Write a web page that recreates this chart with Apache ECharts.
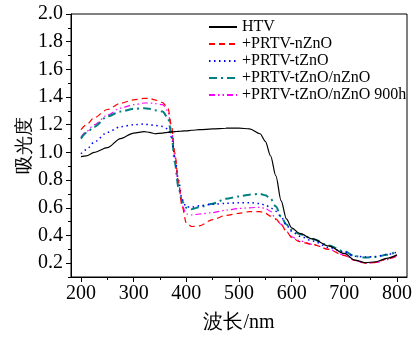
<!DOCTYPE html>
<html>
<head>
<meta charset="utf-8">
<script src="https://cdn.jsdelivr.net/npm/echarts@6/dist/echarts.min.js"></script>
<style>html,body{margin:0;padding:0;background:#fff}#c{width:415px;height:338px}</style>
</head>
<body>
<div id="c"></div>
<script>
var wavelength = [200,210,225,250,275,300,320,330,340,355,365,372,378,385,392,400,410,425,450,475,500,520,540,550,560,570,580,590,600,615,640,670,700,720,740,760,780,800];
var htv =        [0.97,0.975,1.0,1.035,1.10,1.14,1.15,1.145,1.135,1.14,1.145,1.148,1.15,1.152,1.154,1.156,1.16,1.164,1.17,1.175,1.176,1.17,1.135,1.08,0.975,0.83,0.65,0.52,0.455,0.415,0.375,0.325,0.27,0.222,0.203,0.21,0.235,0.26];
var nZnO =       [1.165,1.20,1.25,1.31,1.355,1.38,1.39,1.39,1.38,1.36,1.32,1.19,1.0,0.79,0.61,0.49,0.465,0.47,0.515,0.545,0.56,0.572,0.572,0.56,0.54,0.52,0.48,0.43,0.385,0.355,0.335,0.30,0.255,0.22,0.20,0.205,0.23,0.25];
var tZnO =       [0.99,1.02,1.075,1.145,1.185,1.20,1.205,1.20,1.195,1.188,1.17,1.11,0.97,0.80,0.66,0.605,0.605,0.615,0.625,0.632,0.637,0.637,0.63,0.62,0.60,0.575,0.535,0.475,0.43,0.395,0.36,0.315,0.28,0.25,0.245,0.248,0.262,0.28];
var tnZnO =      [1.10,1.14,1.185,1.26,1.295,1.315,1.32,1.315,1.305,1.295,1.25,1.13,0.93,0.75,0.645,0.60,0.59,0.605,0.63,0.665,0.682,0.695,0.70,0.69,0.665,0.61,0.535,0.48,0.44,0.41,0.375,0.328,0.285,0.25,0.24,0.245,0.26,0.285];
var tnZnO900 =   [1.11,1.15,1.20,1.27,1.32,1.345,1.357,1.357,1.353,1.345,1.30,1.16,0.97,0.77,0.615,0.555,0.548,0.555,0.565,0.583,0.595,0.60,0.604,0.595,0.575,0.515,0.48,0.43,0.39,0.362,0.335,0.30,0.258,0.22,0.198,0.205,0.225,0.255];
var seriesNames = ['HTV','+PRTV-nZnO','+PRTV-tZnO','+PRTV-tZnO/nZnO','+PRTV-tZnO/nZnO 900h'];
var xMajor = [200,300,400,500,600,700,800];
var xMinor = [250,350,450,550,650,750];
var yMajor = [0.2,0.4,0.6,0.8,1.0,1.2,1.4,1.6,1.8,2.0];
var yMinor = [0.1,0.3,0.5,0.7,0.9,1.1,1.3,1.5,1.7,1.9];

function pairs(arr){ return wavelength.map(function(w,i){ return [w, arr[i]]; }); }
var FONT = 'Liberation Serif';
var styles = [
  {color:'#000000', width:1.2, type:'solid'},
  {color:'#ff0000', width:1.2, type:[6,4]},
  {color:'#0000ff', width:1.5, type:[1.5,3.5]},
  {color:'#008080', width:2, type:[8,4,2,4]},
  {color:'#ff00ff', width:1.2, type:[6,3,1.5,3,1.5,3]}
];
var dataSets = [htv,nZnO,tZnO,tnZnO,tnZnO900];
var series = dataSets.map(function(d,i){
  return {
    name: seriesNames[i], type:'line', xAxisIndex:0, yAxisIndex:0,
    data: pairs(d), symbol:'none', smooth:0.3, smoothMonotone:'x',
    lineStyle:{color:styles[i].color, width:styles[i].width, type:styles[i].type},
    itemStyle:{color:styles[i].color}, z: 10 - i
  };
});
var chart = echarts.init(document.getElementById('c'), null, {renderer:'canvas'});
chart.setOption({
  animation:false,
  backgroundColor:'#fff',
  grid:{left:71, right:5, top:14, bottom:61, show:true, borderColor:'#000', borderWidth:1, containLabel:false},
  legend:{
    orient:'vertical', left:203, top:14, itemWidth:28, itemHeight:10, itemGap:1,
    itemStyle:{opacity:0},
    textStyle:{fontFamily:FONT, fontSize:16, color:'#000', lineHeight:16},
    data: seriesNames
  },
  xAxis:[
    {type:'value', min:181, max:819, position:'bottom',
     name:'波长/nm', nameLocation:'middle', nameGap:36, nameMoveOverlap:false,
     nameTextStyle:{fontFamily:FONT, fontSize:20, color:'#000'},
     axisLine:{show:true, lineStyle:{color:'#000', width:1}},
     axisTick:{show:true, inside:false, length:5, customValues:xMajor, lineStyle:{color:'#000'}},
     axisLabel:{show:true, customValues:xMajor, margin:7, fontFamily:FONT, fontSize:20, color:'#000'},
     splitLine:{show:false}},
    {type:'value', min:181, max:819, position:'bottom', gridIndex:0,
     axisLine:{show:false},
     axisTick:{show:true, inside:false, length:3, customValues:xMinor, lineStyle:{color:'#000'}},
     axisLabel:{show:false}, splitLine:{show:false}}
  ],
  yAxis:[
    {type:'value', min:0.1, max:2.0, position:'left',
     name:'吸光度', nameLocation:'middle', nameGap:36, nameRotate:90, nameMoveOverlap:false,
     nameTextStyle:{fontFamily:FONT, fontSize:19, color:'#000'},
     axisLine:{show:true, lineStyle:{color:'#000', width:1}},
     axisTick:{show:true, inside:false, length:5, customValues:yMajor, lineStyle:{color:'#000'}},
     axisLabel:{show:true, customValues:yMajor, margin:8, fontFamily:FONT, fontSize:20, color:'#000',
       formatter:function(v){ return v.toFixed(1); }},
     splitLine:{show:false}},
    {type:'value', min:0.1, max:2.0, position:'left', gridIndex:0,
     axisLine:{show:false},
     axisTick:{show:true, inside:false, length:3, customValues:yMinor, lineStyle:{color:'#000'}},
     axisLabel:{show:false}, splitLine:{show:false}}
  ],
  series: series
});
</script>
</body>
</html>
